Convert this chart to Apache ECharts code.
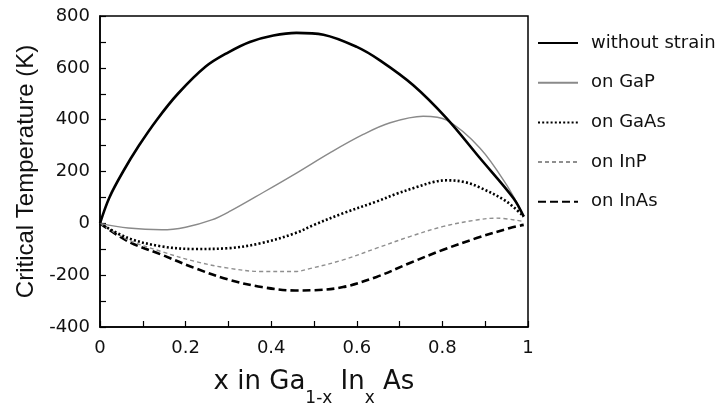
<!DOCTYPE html>
<html>
<head>
<meta charset="utf-8">
<script src="https://cdn.jsdelivr.net/npm/echarts@6/dist/echarts.min.js"></script>
<style>
html,body{margin:0;padding:0;background:#fff;}
#chart{width:716px;height:405px;}
</style>
</head>
<body>
<div id="chart"></div>
<script>
// ---- data ----
const seriesNames = ['without strain', 'on GaP', 'on GaAs', 'on InP', 'on InAs'];

const xNoStrain = [0, 0.022, 0.054, 0.091, 0.133, 0.182, 0.247, 0.3, 0.35, 0.405, 0.459, 0.522, 0.6, 0.654, 0.732, 0.81, 0.888, 0.966, 0.99];
const yNoStrain = [0, 100, 200, 300, 400, 500, 605, 660, 700, 725, 735, 728, 681, 629, 533, 405, 251, 97, 26];

const xGaP = [0, 0.066, 0.144, 0.2, 0.261, 0.304, 0.382, 0.46, 0.537, 0.615, 0.678, 0.755, 0.81, 0.888, 0.95, 0.99];
const yGaP = [0, -18, -25, -15, 13, 47, 120, 195, 272, 343, 388, 413, 398, 290, 148, 28];

const xGaAs = [0, 0.066, 0.144, 0.222, 0.3, 0.378, 0.456, 0.5, 0.568, 0.646, 0.693, 0.74, 0.78, 0.81, 0.85, 0.888, 0.95, 0.99];
const yGaAs = [0, -57, -89, -99, -96, -76, -38, -6, 39, 84, 114, 140, 160, 166, 160, 138, 84, 26];

const xInP = [0, 0.066, 0.144, 0.222, 0.3, 0.378, 0.456, 0.49, 0.568, 0.646, 0.724, 0.802, 0.88, 0.927, 0.99];
const yInP = [0, -64, -109, -147, -173, -186, -186, -175, -141, -96, -51, -12, 13, 20, 7];

const xInAs = [0, 0.066, 0.144, 0.222, 0.3, 0.378, 0.456, 0.5, 0.568, 0.646, 0.724, 0.802, 0.88, 0.958, 0.99];
const yInAs = [0, -70, -121, -173, -217, -246, -259, -258, -246, -207, -153, -102, -57, -18, -6];

const xTicks = [0, 0.2, 0.4, 0.6, 0.8, 1];
const yTicks = [-400, -200, 0, 200, 400, 600, 800];

// ---- build ----
function pairs(xs, ys) { return xs.map((x, i) => [x, ys[i]]); }

const styles = [
  {color: '#000', width: 2.6, type: 'solid'},
  {color: '#8a8a8a', width: 1.4, type: 'solid'},
  {color: '#000', width: 2.6, type: [2, 2.2]},
  {color: '#8f8f8f', width: 1.4, type: [4, 3]},
  {color: '#000', width: 2.6, type: [8, 4]}
];
const dataSets = [
  pairs(xNoStrain, yNoStrain),
  pairs(xGaP, yGaP),
  pairs(xGaAs, yGaAs),
  pairs(xInP, yInP),
  pairs(xInAs, yInAs)
];

const chart = echarts.init(document.getElementById('chart'), null, {renderer: 'canvas'});
const tickFont = {fontFamily: 'DejaVu Sans', fontSize: 18, color: '#111'};

chart.setOption({
  animation: false,
  backgroundColor: '#fff',
  grid: {left: 100, right: 188, top: 16, bottom: 78, outerBoundsMode: 'none', show: true, borderColor: '#000', borderWidth: 1.5, backgroundColor: 'transparent'},
  legend: {
    orient: 'vertical', left: 537, top: 34, padding: 0,
    itemWidth: 40, itemHeight: 18, itemGap: 21.7,
    data: seriesNames,
    itemStyle: {opacity: 0},
    textStyle: {fontFamily: 'DejaVu Sans', fontSize: 18, color: '#111', padding: [0, 0, 0, 8]}
  },
  xAxis: {
    type: 'value', min: 0, max: 1, interval: 0.2,
    name: '{m|x in Ga}{s|1-x}{m| In}{s|x}{m| As}',
    nameLocation: 'middle', nameGap: 42,
    nameTextStyle: {
      rich: {
        m: {fontFamily: 'DejaVu Sans', fontSize: 26, color: '#111', verticalAlign: 'top', lineHeight: 38},
        s: {fontFamily: 'DejaVu Sans', fontSize: 17, color: '#111', verticalAlign: 'bottom', lineHeight: 38}
      }
    },
    axisLine: {onZero: false, lineStyle: {color: '#000', width: 1.5}},
    axisTick: {inside: true, length: 6, lineStyle: {color: '#000', width: 1.2}},
    minorTick: {show: true, splitNumber: 2, length: 6, lineStyle: {color: '#000', width: 1.2}},
    splitLine: {show: false},
    axisLabel: Object.assign({margin: 12, formatter: v => {
      const t = xTicks.find(k => Math.abs(k - v) < 1e-6);
      return t === undefined ? '' : String(t);
    }}, tickFont)
  },
  yAxis: {
    type: 'value', min: -400, max: 800, interval: 200,
    name: 'Critical Temperature (K)',
    nameLocation: 'middle', nameGap: 54, nameRotate: 90,
    nameTextStyle: {fontFamily: 'Liberation Sans', fontSize: 24, color: '#111'},
    axisLine: {onZero: false, lineStyle: {color: '#000', width: 1.5}},
    axisTick: {inside: true, length: 6, lineStyle: {color: '#000', width: 1.2}},
    minorTick: {show: true, splitNumber: 2, length: 6, lineStyle: {color: '#000', width: 1.2}},
    splitLine: {show: false},
    axisLabel: Object.assign({margin: 10, formatter: v => {
      const t = yTicks.find(k => Math.abs(k - v) < 1e-6);
      return t === undefined ? '' : String(t);
    }}, tickFont)
  },
  series: seriesNames.map((n, i) => ({
    name: n, type: 'line', data: dataSets[i], smooth: 0.35,
    symbol: 'none', showSymbol: false,
    lineStyle: {color: styles[i].color, width: styles[i].width, type: styles[i].type, cap: 'butt'},
    itemStyle: {color: styles[i].color},
    z: 10 - i
  }))
});
</script>
</body>
</html>
